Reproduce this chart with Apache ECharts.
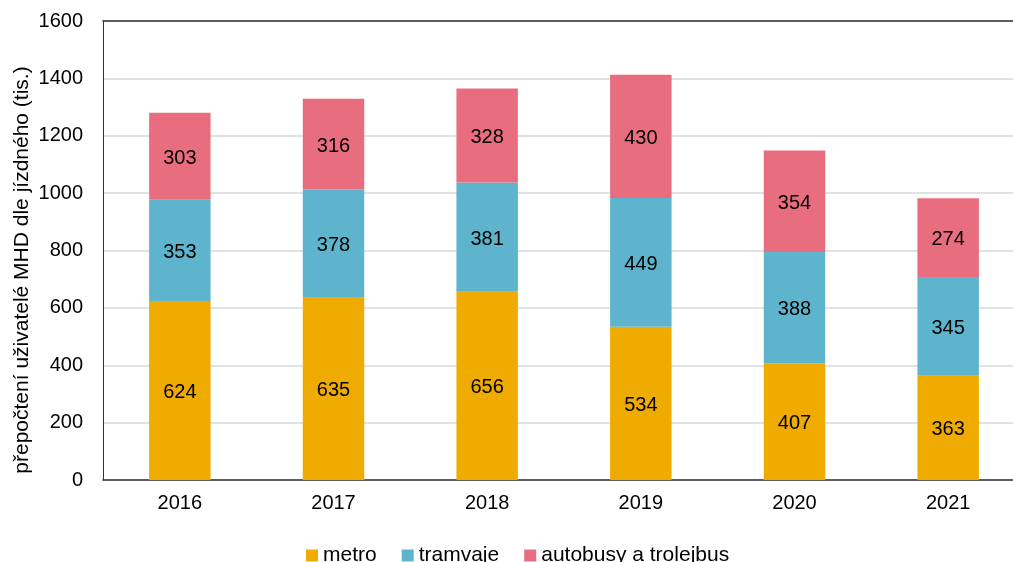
<!DOCTYPE html>
<html>
<head>
<meta charset="utf-8">
<script src="https://cdn.jsdelivr.net/npm/echarts@6/dist/echarts.min.js"></script>
<style>
  html, body { margin: 0; padding: 0; background: #fff; }
  #main { width: 1013px; height: 562px; }
</style>
</head>
<body>
<div id="main"></div>
<script>
var years = ["2016", "2017", "2018", "2019", "2020", "2021"];
var metro = [624, 635, 656, 534, 407, 363];
var tramvaje = [353, 378, 381, 449, 388, 345];
var autobusy = [303, 316, 328, 430, 354, 274];

var myChart = echarts.init(document.getElementById("main"));
var font = "Liberation Sans, Arial, sans-serif";

function serie(name, data, color) {
  return {
    name: name,
    type: "bar",
    stack: "total",
    barWidth: "40%",
    itemStyle: { color: color },
    label: {
      show: true,
      position: "inside",
      offset: [0, 2],
      color: "#000",
      fontSize: 20,
      fontFamily: font
    },
    data: data
  };
}

var option = {
  animation: false,
  textStyle: { fontFamily: font },
  // the original plot runs a bit past the right edge of the picture
  grid: { left: 103, right: -12, top: 21, bottom: 82, outerBoundsMode: "none" },
  legend: {
    top: 540,
    left: 301,
    itemWidth: 12,
    itemHeight: 12,
    itemGap: 25,
    icon: "rect",
    textStyle: { fontSize: 21, color: "#000", fontFamily: font },
    data: ["metro", "tramvaje", "autobusy a trolejbus"]
  },
  // y axis title sits a little below the plot centre, so it is placed by hand
  graphic: [
    {
      type: "text",
      x: 22,
      y: 270,
      rotation: Math.PI / 2,
      style: {
        text: "přepočtení uživatelé MHD dle jízdného (tis.)",
        fontSize: 21,
        fontFamily: font,
        fill: "#000",
        align: "center",
        verticalAlign: "middle"
      }
    }
  ],
  xAxis: [
    {
      type: "category",
      data: years,
      axisLine: { lineStyle: { color: "#333", width: 1.5 } },
      axisTick: { show: false },
      axisLabel: { color: "#000", fontSize: 20, margin: 13, fontFamily: font }
    },
    {
      type: "category",
      position: "top",
      data: years,
      axisLine: { show: true, lineStyle: { color: "#333", width: 1.5 } },
      axisTick: { show: false },
      axisLabel: { show: false }
    }
  ],
  yAxis: {
    type: "value",
    min: 0,
    max: 1600,
    interval: 200,
    axisLine: { show: true, lineStyle: { color: "#333", width: 1 } },
    axisTick: { show: false },
    axisLabel: {
      color: "#000",
      fontSize: 20,
      margin: 20,
      fontFamily: font,
      formatter: function (v) { return String(v); }
    },
    splitLine: { lineStyle: { color: "#d9d9d9", width: 1.5 } }
  },
  series: [
    serie("metro", metro, "#F0AB00"),
    serie("tramvaje", tramvaje, "#5EB4CC"),
    serie("autobusy a trolejbus", autobusy, "#E86E7F")
  ]
};
myChart.setOption(option);
</script>
</body>
</html>
